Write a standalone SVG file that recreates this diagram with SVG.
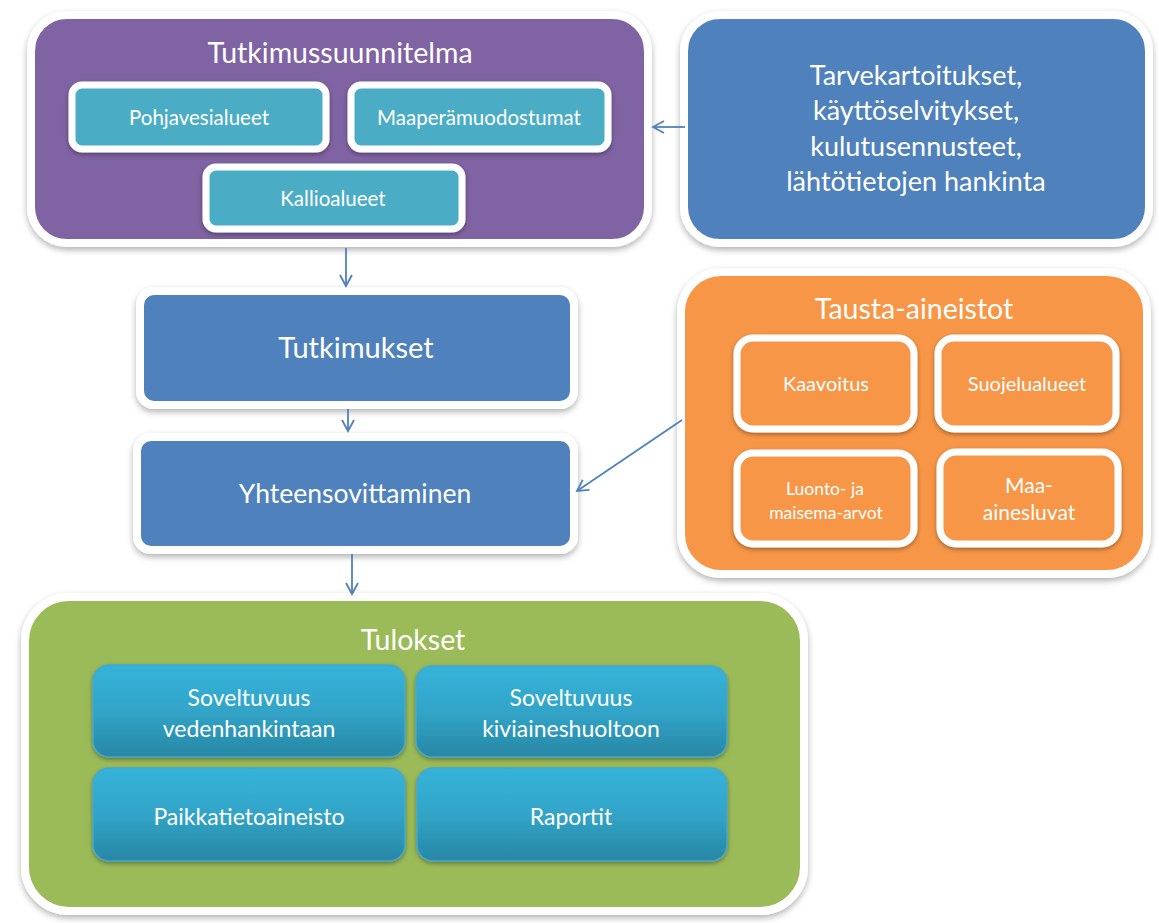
<svg xmlns="http://www.w3.org/2000/svg" width="1159" height="923" viewBox="0 0 1159 923">
<defs>
<filter id="sh" x="-10%" y="-10%" width="120%" height="130%">
<feDropShadow dx="0" dy="3" stdDeviation="3" flood-color="#000" flood-opacity="0.3"/>
</filter>
<filter id="sh2" x="-10%" y="-10%" width="120%" height="130%">
<feDropShadow dx="0" dy="2" stdDeviation="2" flood-color="#000" flood-opacity="0.35"/>
</filter>
<linearGradient id="cy" x1="0" y1="0" x2="0" y2="1">
<stop offset="0" stop-color="#36B3DA"/>
<stop offset="0.5" stop-color="#31A4C8"/>
<stop offset="1" stop-color="#2987A5"/>
</linearGradient>
<marker id="ah" viewBox="0 0 14 14" refX="12" refY="7" markerWidth="14" markerHeight="14" markerUnits="userSpaceOnUse" orient="auto">
<path d="M1,1 L12,7 L1,13" fill="none" stroke="#4F81BD" stroke-width="1.8"/>
</marker>
<style>
.big{stroke:#fff;stroke-width:8;filter:url(#sh)}
.sub{stroke:#fff;stroke-width:7;filter:url(#sh2)}
.t{font-family:Lato,"Open Sans","Liberation Sans",sans-serif;fill:#fff;text-anchor:middle}
.c{stroke:#4F81BD;stroke-width:1.8;fill:none;marker-end:url(#ah)}
</style>
</defs>
<rect width="1159" height="923" fill="#fff"/>

<g id="tutkimussuunnitelma">
<rect class="big" x="31" y="15" width="617" height="228" rx="36" fill="#8064A2"/>
<text class="t" x="340" y="63" font-size="28.5">Tutkimussuunnitelma</text>
</g>
<g id="pohjavesialueet">
<rect class="sub" x="72" y="85" width="254" height="64" rx="10" fill="#4BACC6"/>
<text class="t" x="199" y="125" font-size="20.5">Pohjavesialueet</text>
</g>
<g id="maaperamuodostumat">
<rect class="sub" x="351" y="85" width="257" height="64" rx="10" fill="#4BACC6"/>
<text class="t" x="479" y="125" font-size="20.5">Maaperämuodostumat</text>
</g>
<g id="kallioalueet">
<rect class="sub" x="206" y="167" width="256" height="62" rx="10" fill="#4BACC6"/>
<text class="t" x="333" y="206" font-size="20.5">Kallioalueet</text>
</g>

<g id="tarvekartoitukset">
<rect class="big" x="684" y="15" width="465" height="228" rx="36" fill="#4F81BD"/>
<text class="t" x="916" y="85" font-size="27">Tarvekartoitukset,</text>
<text class="t" x="916" y="120" font-size="27">käyttöselvitykset,</text>
<text class="t" x="916" y="156" font-size="27">kulutusennusteet,</text>
<text class="t" x="916" y="191" font-size="27">lähtötietojen hankinta</text>
</g>

<g id="tutkimukset">
<rect class="big" x="140" y="291" width="434" height="114" rx="14" fill="#4F81BD"/>
<text class="t" x="356" y="358" font-size="29">Tutkimukset</text>
</g>

<g id="yhteensovittaminen">
<rect class="big" x="137" y="437" width="437" height="113" rx="14" fill="#4F81BD"/>
<text class="t" x="355" y="503" font-size="26.5">Yhteensovittaminen</text>
</g>

<g id="tausta-aineistot">
<rect class="big" x="681" y="272" width="466" height="302" rx="40" fill="#F79646"/>
<text class="t" x="914" y="319" font-size="28.5">Tausta-aineistot</text>
</g>
<g id="kaavoitus">
<rect class="sub" x="737" y="338" width="177" height="91" rx="16" fill="#F79646"/>
<text class="t" x="826" y="391" font-size="20">Kaavoitus</text>
</g>
<g id="suojelualueet">
<rect class="sub" x="938" y="338" width="178" height="91" rx="16" fill="#F79646"/>
<text class="t" x="1027" y="391" font-size="20">Suojelualueet</text>
</g>
<g id="luonto">
<rect class="sub" x="737" y="453" width="177" height="91" rx="16" fill="#F79646"/>
<text class="t" x="825" y="495" font-size="17.5">Luonto- ja</text>
<text class="t" x="826" y="519" font-size="17.5">maisema-arvot</text>
</g>
<g id="maa-ainesluvat">
<rect class="sub" x="940" y="452" width="178" height="92" rx="16" fill="#F79646"/>
<text class="t" x="1029" y="493" font-size="21">Maa-</text>
<text class="t" x="1029" y="520" font-size="21">ainesluvat</text>
</g>

<g id="tulokset">
<rect class="big" x="25" y="597" width="779" height="314" rx="44" fill="#9BBB59"/>
<text class="t" x="413" y="650" font-size="28.5">Tulokset</text>
</g>
<g id="vedenhankintaan">
<rect x="93" y="665" width="312" height="92" rx="16" fill="url(#cy)" stroke="#46A8CC" stroke-width="1.5" filter="url(#sh2)"/>
<text class="t" x="249" y="706" font-size="23">Soveltuvuus</text>
<text class="t" x="249" y="737" font-size="23">vedenhankintaan</text>
</g>
<g id="kiviaineshuoltoon">
<rect x="416" y="666" width="311" height="91" rx="16" fill="url(#cy)" stroke="#46A8CC" stroke-width="1.5" filter="url(#sh2)"/>
<text class="t" x="571" y="706" font-size="23">Soveltuvuus</text>
<text class="t" x="571" y="737" font-size="23">kiviaineshuoltoon</text>
</g>
<g id="paikkatietoaineisto">
<rect x="93" y="768" width="312" height="93" rx="16" fill="url(#cy)" stroke="#46A8CC" stroke-width="1.5" filter="url(#sh2)"/>
<text class="t" x="249" y="825" font-size="23">Paikkatietoaineisto</text>
</g>
<g id="raportit">
<rect x="417" y="768" width="310" height="93" rx="16" fill="url(#cy)" stroke="#46A8CC" stroke-width="1.5" filter="url(#sh2)"/>
<text class="t" x="571" y="825" font-size="23">Raportit</text>
</g>

<g id="connectors">
<line class="c" x1="685" y1="127" x2="653" y2="127"/>
<line class="c" x1="346" y1="248" x2="346" y2="286"/>
<line class="c" x1="348" y1="409" x2="348" y2="431"/>
<line class="c" x1="682" y1="420" x2="577" y2="491"/>
<line class="c" x1="352" y1="554" x2="352" y2="594"/>
</g>
</svg>
